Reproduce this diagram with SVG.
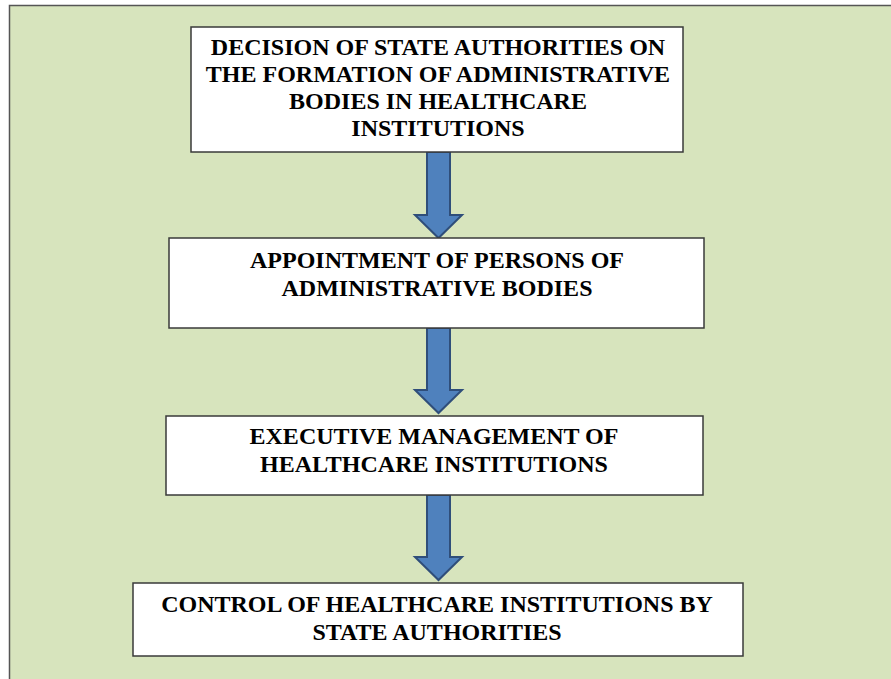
<svg xmlns="http://www.w3.org/2000/svg" width="891" height="679" viewBox="0 0 891 679">
<style>
.box{fill:#ffffff;stroke:#3a3a3a;stroke-width:1.5}
.t{font-family:'Liberation Serif','Times New Roman','DejaVu Serif',serif;font-weight:700;font-size:24px;fill:#000;text-anchor:middle}
.arr{fill:#4F81BD;stroke:#2F4E7A;stroke-width:2;stroke-linejoin:miter}
</style>
<rect x="0" y="0" width="891" height="679" fill="#ffffff"/>
<rect x="9.5" y="5.5" width="900" height="700" fill="#D7E4BD" stroke="#555" stroke-width="1.5"/>
<g id="connectors">
<path class="arr" d="M427,152 H450 V215 H462 L438.5,238 L415,215 H427 Z"/>
<path class="arr" d="M427,328 H450 V390 H462 L438.5,413 L415,390 H427 Z"/>
<path class="arr" d="M427,495 H450 V557 H462 L438.5,580 L415,557 H427 Z"/>
</g>
<g id="node1">
<rect class="box" x="191" y="27" width="492" height="125"/>
<text class="t" x="438" y="55">DECISION OF STATE AUTHORITIES ON</text>
<text class="t" x="438" y="82">THE FORMATION OF ADMINISTRATIVE</text>
<text class="t" x="438" y="109">BODIES IN HEALTHCARE</text>
<text class="t" x="438" y="136">INSTITUTIONS</text>
</g>
<g id="node2">
<rect class="box" x="169" y="238" width="535" height="90"/>
<text class="t" x="437" y="268">APPOINTMENT OF PERSONS OF</text>
<text class="t" x="437" y="296">ADMINISTRATIVE BODIES</text>
</g>
<g id="node3">
<rect class="box" x="166" y="416" width="537" height="79"/>
<text class="t" x="434" y="444">EXECUTIVE MANAGEMENT OF</text>
<text class="t" x="434" y="472">HEALTHCARE INSTITUTIONS</text>
</g>
<g id="node4">
<rect class="box" x="133" y="583" width="610" height="73"/>
<text class="t" x="437" y="612">CONTROL OF HEALTHCARE INSTITUTIONS BY</text>
<text class="t" x="437" y="640">STATE AUTHORITIES</text>
</g>
</svg>
